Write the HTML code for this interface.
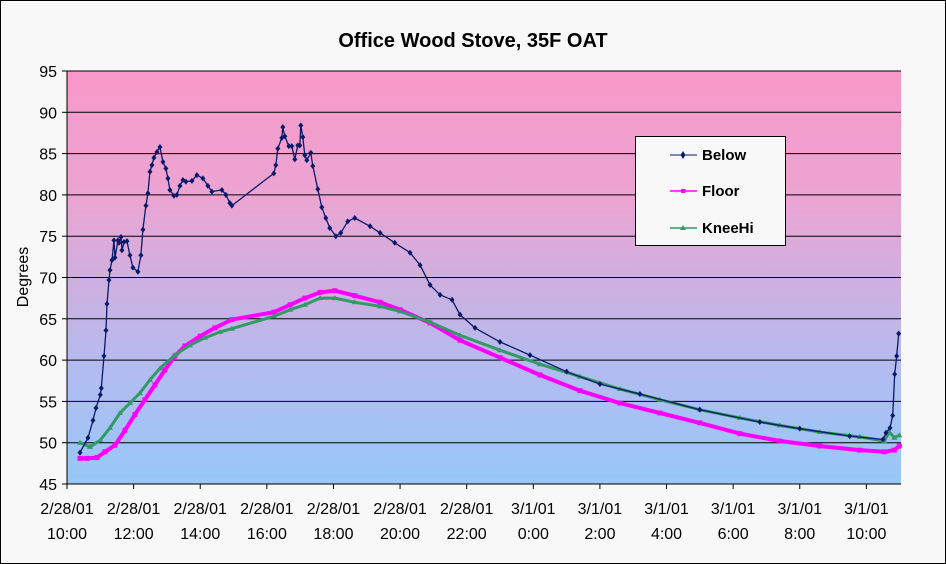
<!DOCTYPE html>
<html><head><meta charset="utf-8"><style>
html,body{margin:0;padding:0;background:#f8f8f8;}
svg{display:block;font-family:"Liberation Sans",Arial,sans-serif;}
</style></head><body>
<svg id="chart" width="946" height="564" viewBox="0 0 946 564">
<defs>
<linearGradient id="bg" x1="0" y1="0" x2="0" y2="1">
<stop offset="0" stop-color="#f898c8"/>
<stop offset="0.3" stop-color="#eca4d2"/>
<stop offset="0.55" stop-color="#c9b2e2"/>
<stop offset="0.75" stop-color="#b0bdf2"/>
<stop offset="1" stop-color="#96c8f6"/>
</linearGradient>
</defs>
<rect x="0.5" y="0.5" width="945" height="563" fill="#f8f8f8" stroke="#000"/>
<text x="473" y="47" text-anchor="middle" font-size="20" font-weight="bold">Office Wood Stove, 35F OAT</text>
<rect x="67" y="71" width="834" height="413" fill="url(#bg)"/>
<g id="grid"></g>
<g id="axes"></g>
<g id="series"></g>
<text transform="translate(28,277) rotate(-90)" text-anchor="middle" font-size="16">Degrees</text>
<g>
<rect x="635.5" y="136.5" width="150" height="109" fill="#f8f8f8" stroke="#000"/>
<g><line x1="670" y1="155" x2="697" y2="155" stroke="#0a1a6a" stroke-width="1"/><path d="M683 151l2.5 4-2.5 4-2.5-4z" fill="#0a1a6a"/><text x="702" y="160" font-size="15" font-weight="bold">Below</text></g>
<g><line x1="670" y1="191" x2="697" y2="191" stroke="#ff00ff" stroke-width="1.5"/><rect x="681" y="189" width="4" height="4" fill="#ff00ff"/><text x="702" y="196" font-size="15" font-weight="bold">Floor</text></g>
<g><line x1="670" y1="228" x2="697" y2="228" stroke="#339966" stroke-width="1.5"/><path d="M683 225l3 5h-6z" fill="#339966"/><text x="702" y="233" font-size="15" font-weight="bold">KneeHi</text></g>
</g>
</svg>
<script>
const yTicks=[45,50,55,60,65,70,75,80,85,90,95];
const xTickHours=[0,2,4,6,8,10,12,14,16,18,20,22,24];
const xTickDates=["2/28/01","2/28/01","2/28/01","2/28/01","2/28/01","2/28/01","2/28/01","3/1/01","3/1/01","3/1/01","3/1/01","3/1/01","3/1/01"];
const xTickTimes=["10:00","12:00","14:00","16:00","18:00","20:00","22:00","0:00","2:00","4:00","6:00","8:00","10:00"];
const belowHours=[0.39,0.63,0.78,0.87,1.0,1.03,1.11,1.17,1.2,1.26,1.29,1.35,1.41,1.44,1.53,1.56,1.62,1.65,1.71,1.8,1.89,1.98,2.13,2.22,2.28,2.37,2.43,2.49,2.55,2.61,2.7,2.79,2.88,2.97,3.03,3.09,3.21,3.3,3.39,3.48,3.57,3.75,3.9,4.08,4.23,4.35,4.65,4.77,4.89,4.95,6.21,6.27,6.33,6.45,6.48,6.54,6.66,6.75,6.84,6.93,6.99,7.02,7.08,7.14,7.2,7.32,7.38,7.53,7.65,7.77,7.89,8.07,8.22,8.43,8.64,9.1,9.4,9.84,10.3,10.6,10.9,11.2,11.56,11.8,12.25,13.0,13.9,15.0,16.0,17.2,19.0,20.8,22.0,23.5,24.5,24.59,24.71,24.79,24.85,24.91,24.97];
const belowValues=[48.8,50.6,52.7,54.2,55.8,56.6,60.5,63.6,66.8,69.7,70.9,72.1,74.5,72.4,74.5,74.2,74.9,73.3,74.3,74.4,72.7,71.2,70.7,72.7,75.8,78.7,80.2,82.8,83.6,84.5,85.2,85.8,84.0,83.2,82.0,80.6,79.9,80.0,81.1,81.8,81.6,81.7,82.4,82.0,81.1,80.4,80.6,80.0,79.0,78.7,82.6,83.6,85.6,86.9,88.2,87.1,85.9,85.9,84.3,86.0,86.0,88.4,87.0,84.8,84.2,85.1,83.5,80.7,78.5,77.2,76.0,75.0,75.4,76.8,77.2,76.2,75.4,74.2,73.0,71.5,69.1,67.9,67.3,65.5,63.9,62.2,60.6,58.6,57.1,55.9,54.0,52.5,51.7,50.8,50.4,51.2,51.8,53.3,58.3,60.5,63.2];
const floorHours=[0.39,0.6,0.9,1.14,1.44,1.74,2.04,2.34,2.64,2.94,3.24,3.54,4.0,4.44,4.95,6.21,6.7,7.14,7.6,8.04,8.64,9.4,10.0,10.9,11.8,13.0,14.2,15.4,16.6,17.8,19.0,20.2,21.4,22.6,23.8,24.54,24.84,24.99];
const floorValues=[48.1,48.1,48.2,48.9,49.7,51.5,53.4,55.2,57.0,58.8,60.5,61.7,62.9,63.9,64.9,65.8,66.7,67.5,68.2,68.4,67.8,67.0,66.1,64.5,62.4,60.3,58.2,56.3,54.8,53.6,52.4,51.1,50.2,49.6,49.1,48.9,49.1,49.6];
const kneeHours=[0.39,0.69,1.0,1.29,1.59,1.89,2.19,2.49,2.79,3.24,3.69,4.14,4.59,4.95,6.21,6.7,7.14,7.6,8.04,8.64,9.4,10.0,10.9,11.8,13.0,14.2,15.4,16.6,17.8,19.0,20.2,21.4,22.6,23.8,24.54,24.69,24.84,24.99];
const kneeValues=[50.0,49.5,50.3,51.8,53.6,54.8,56.0,57.6,59.0,60.6,61.8,62.7,63.4,63.8,65.3,66.1,66.7,67.5,67.5,67.0,66.5,65.9,64.6,63.0,61.2,59.5,58.0,56.5,55.2,54.0,53.0,52.1,51.3,50.7,50.2,51.3,50.6,50.9];

const NS="http://www.w3.org/2000/svg";
const X0=67,X1=901,Y0=484,Y1=71,HMAX=25.04;
function xs(h){return X0+(X1-X0)*h/HMAX;}
function ys(v){return Y0-(Y0-Y1)*(v-45)/50;}
function mk(tag,attrs,parent){const e=document.createElementNS(NS,tag);for(const k in attrs)e.setAttribute(k,attrs[k]);parent.appendChild(e);return e;}
const grid=document.getElementById('grid'),axes=document.getElementById('axes'),ser=document.getElementById('series');
yTicks.forEach(v=>{
  if(v>45){const l=mk('line',{x1:X0,x2:X1,y1:ys(v),y2:ys(v),stroke:'#000','stroke-width':1},grid);
  
  }
  const tk=mk('line',{x1:X0-5,x2:X0,y1:ys(v),y2:ys(v),stroke:'#000'},axes);
  
  
  const t=mk('text',{x:X0-10,y:ys(v)+6,'text-anchor':'end','font-size':16},axes);
  t.textContent=v;
  
  
});
const ya=mk('line',{x1:X0,x2:X0,y1:Y1,y2:Y0,stroke:'#000'},axes);


const xa=mk('line',{x1:X0,x2:X1,y1:Y0,y2:Y0,stroke:'#000'},axes);


xTickHours.forEach((h,i)=>{
  const tk=mk('line',{x1:xs(h),x2:xs(h),y1:Y0,y2:Y0+5,stroke:'#000'},axes);
  
  
  const t=mk('text',{x:xs(h),y:514,'text-anchor':'middle','font-size':16},axes);
  t.textContent=xTickDates[i];
  
  
  const t2=mk('text',{x:xs(h),y:539,'text-anchor':'middle','font-size':16},axes);
  t2.textContent=xTickTimes[i];
  
  
});
function series(hours,vals,color,w,name,shape){
  const g=mk('g',{},ser);
  
  
  const d=hours.map((h,i)=>(i?'L':'M')+xs(h).toFixed(1)+' '+ys(vals[i]).toFixed(1)).join(' ');
  const p=mk('path',{d:d,fill:'none',stroke:color,'stroke-width':w,'stroke-linejoin':'round'},g);
  
  
  hours.forEach((h,i)=>{
    const x=xs(h),y=ys(vals[i]);let m;
    if(shape==='diamond')m=mk('path',{d:`M${x} ${y-3}l2.5 3-2.5 3-2.5-3z`,fill:color},g);
    else if(shape==='square')m=mk('rect',{x:x-2.5,y:y-2.5,width:5,height:5,fill:color},g);
    else m=mk('path',{d:`M${x} ${y-3}l3 5h-6z`,fill:color},g);
    
    
  });
}
series(floorHours,floorValues,'#ff00ff',4,'floor','square');
series(kneeHours,kneeValues,'#339966',3,'kneehi','tri');
series(belowHours,belowValues,'#0a1a6a',1.3,'below','diamond');
</script>
</body></html>
